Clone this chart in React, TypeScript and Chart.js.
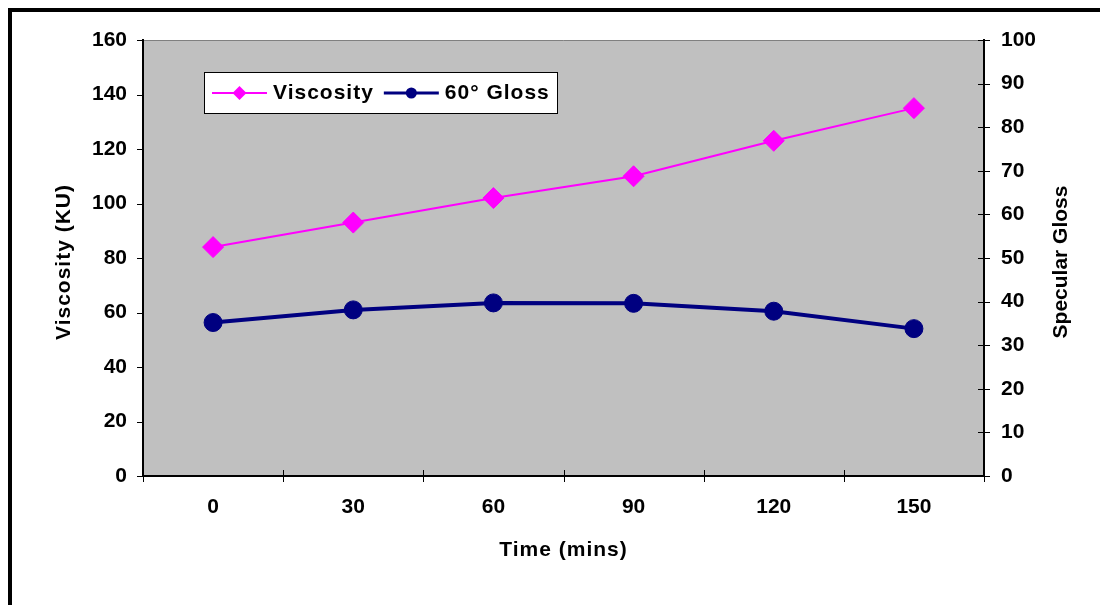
import React, { useEffect, useRef } from 'react';
import { Chart, registerables } from 'chart.js';

Chart.register(...registerables);

// ---- data ----
const timeLabels = ['0', '30', '60', '90', '120', '150'];
const viscosityKU = [84, 93, 102, 110, 123, 135];
const gloss60 = [35.2, 38.1, 39.7, 39.6, 37.8, 33.8];
const leftTickValues = [0, 20, 40, 60, 80, 100, 120, 140, 160];
const rightTickValues = [0, 10, 20, 30, 40, 50, 60, 70, 80, 90, 100];
const seriesNames = ['Viscosity', '60° Gloss'];
const xTitle = 'Time (mins)';
const yTitle = 'Viscosity (KU)';
const y1Title = 'Specular Gloss';

const FONT = '"Liberation Sans", Arial, Helvetica, sans-serif';
const W = 1100;
const H = 597;

const excelPlugin = {
  id: 'excelLook',
  beforeDraw(chart: any) {
    const { ctx } = chart;
    const { left, top, right, bottom } = chart.chartArea;
    ctx.save();
    ctx.fillStyle = '#C0C0C0';
    ctx.fillRect(left, top, right - left, bottom - top);
    ctx.strokeStyle = '#808080';
    ctx.lineWidth = 1;
    ctx.beginPath();
    ctx.moveTo(left, top + 0.5);
    ctx.lineTo(right, top + 0.5);
    ctx.stroke();
    // outer frame (left and top edges)
    ctx.fillStyle = '#000';
    ctx.fillRect(0, 0, chart.width, 4);
    ctx.fillRect(0, 0, 4, chart.height);
    ctx.restore();
  },
  afterDraw(chart: any) {
    const { ctx } = chart;
    const { left, top, right, bottom } = chart.chartArea;
    const ys = chart.scales.y;
    const y1s = chart.scales.y1;
    const xs = chart.scales.x;
    ctx.save();
    // tick marks
    ctx.strokeStyle = '#000';
    ctx.lineWidth = 1;
    ctx.beginPath();
    ys.ticks.forEach((t: any) => {
      const py = Math.round(ys.getPixelForValue(t.value)) + 0.5;
      ctx.moveTo(left - 6, py);
      ctx.lineTo(left, py);
    });
    y1s.ticks.forEach((t: any) => {
      const py = Math.round(y1s.getPixelForValue(t.value)) + 0.5;
      ctx.moveTo(right - 6, py);
      ctx.lineTo(right + 6, py);
    });
    const n = timeLabels.length;
    for (let i = 0; i <= n; i++) {
      let px;
      if (i === 0) px = left;
      else if (i === n) px = right;
      else px = (xs.getPixelForValue(i - 1) + xs.getPixelForValue(i)) / 2;
      px = Math.round(px) + 0.5;
      ctx.moveTo(px, bottom - 6);
      ctx.lineTo(px, bottom + 6);
    }
    ctx.stroke();

    // axis titles
    ctx.fillStyle = '#000';
    ctx.font = `bold 21px ${FONT}`;
    ctx.textAlign = 'center';
    ctx.textBaseline = 'middle';
    (ctx as any).letterSpacing = '1px';
    ctx.fillText(xTitle, (left + right) / 2, 542);
    ctx.save();
    ctx.translate(56, 254);
    ctx.rotate(-Math.PI / 2);
    ctx.fillText(yTitle, 0, 0);
    ctx.restore();
    ctx.save();
    (ctx as any).letterSpacing = '0px';
    ctx.translate(1053, 254);
    ctx.rotate(-Math.PI / 2);
    ctx.fillText(y1Title, 0, 0);
    ctx.restore();

    // legend
    const bx = left + 61;
    const by = top + 32;
    const bw = 354;
    const bh = 42;
    ctx.fillStyle = '#fff';
    ctx.fillRect(bx, by, bw, bh);
    ctx.strokeStyle = '#000';
    ctx.lineWidth = 1;
    ctx.strokeRect(bx + 0.5, by + 0.5, bw - 1, bh - 1);
    let x = bx + 8;
    const cy = by + bh / 2;
    chart.data.datasets.forEach((ds: any, idx: number) => {
      ctx.strokeStyle = ds.borderColor;
      ctx.lineWidth = idx === 0 ? 2 : 3;
      ctx.beginPath();
      ctx.moveTo(x, cy);
      ctx.lineTo(x + 55, cy);
      ctx.stroke();
      const mx = x + 27.5;
      ctx.fillStyle = ds.borderColor;
      ctx.beginPath();
      if (ds.pointStyle === 'rectRot') {
        const r = 7;
        ctx.moveTo(mx - r, cy);
        ctx.lineTo(mx, cy - r);
        ctx.lineTo(mx + r, cy);
        ctx.lineTo(mx, cy + r);
        ctx.closePath();
      } else {
        ctx.arc(mx, cy, 5.5, 0, Math.PI * 2);
      }
      ctx.fill();
      ctx.fillStyle = '#000';
      ctx.textAlign = 'left';
      ctx.textBaseline = 'middle';
      ctx.fillText(ds.label, x + 61, cy);
      x += 61 + ctx.measureText(ds.label).width + 10;
    });
    ctx.restore();
  },
};

export default function App() {
  const ref = useRef<HTMLCanvasElement>(null);
  useEffect(() => {
    document.body.style.overflow = 'hidden';
    const tickFont = { family: FONT, size: 21, weight: 'bold' as const };
    const chart = new Chart(ref.current as HTMLCanvasElement, {
      type: 'line',
      data: {
        labels: timeLabels,
        datasets: [
          {
            label: seriesNames[0],
            data: viscosityKU,
            yAxisID: 'y',
            borderColor: '#FF00FF',
            backgroundColor: '#FF00FF',
            borderWidth: 2,
            pointStyle: 'rectRot',
            pointRadius: 10.5,
            pointBorderWidth: 1,
            pointBackgroundColor: '#FF00FF',
            pointBorderColor: '#FF00FF',
            tension: 0,
          },
          {
            label: seriesNames[1],
            data: gloss60,
            yAxisID: 'y1',
            borderColor: '#000080',
            backgroundColor: '#000080',
            borderWidth: 4,
            pointStyle: 'circle',
            pointRadius: 9,
            pointBorderWidth: 1,
            pointBackgroundColor: '#000080',
            pointBorderColor: '#000080',
            tension: 0,
          },
        ],
      },
      options: {
        responsive: false,
        animation: false,
        layout: { padding: { top: 32, left: 0, right: 0, bottom: 0 } },
        plugins: {
          legend: { display: false },
          tooltip: { enabled: false },
        },
        scales: {
          x: {
            type: 'category',
            offset: true,
            grid: { display: true, drawOnChartArea: false, drawTicks: false, offset: true },
            border: { display: true, color: '#000', width: 2 },
            ticks: { color: '#000', font: tickFont, padding: 19, maxRotation: 0, autoSkip: false },
            afterFit: (s: any) => {
              s.height = 129;
            },
          },
          y: {
            position: 'left',
            min: leftTickValues[0],
            max: leftTickValues[leftTickValues.length - 1],
            grid: { display: true, drawOnChartArea: false, drawTicks: false },
            border: { display: true, color: '#000', width: 2 },
            ticks: { stepSize: leftTickValues[1] - leftTickValues[0], color: '#000', font: tickFont, padding: 16 },
            afterFit: (s: any) => {
              s.width = 135;
            },
          },
          y1: {
            position: 'right',
            min: rightTickValues[0],
            max: rightTickValues[rightTickValues.length - 1],
            grid: { display: true, drawOnChartArea: false, drawTicks: false },
            border: { display: true, color: '#000', width: 2 },
            ticks: { stepSize: rightTickValues[1] - rightTickValues[0], color: '#000', font: tickFont, padding: 17 },
            afterFit: (s: any) => {
              s.width = 124;
            },
          },
        },
      },
      plugins: [excelPlugin],
    } as any);
    return () => chart.destroy();
  }, []);
  return (
    <div style={{ width: W, height: H }}>
      <canvas ref={ref} width={W} height={H} style={{ display: 'block', width: W, height: H }} />
    </div>
  );
}
